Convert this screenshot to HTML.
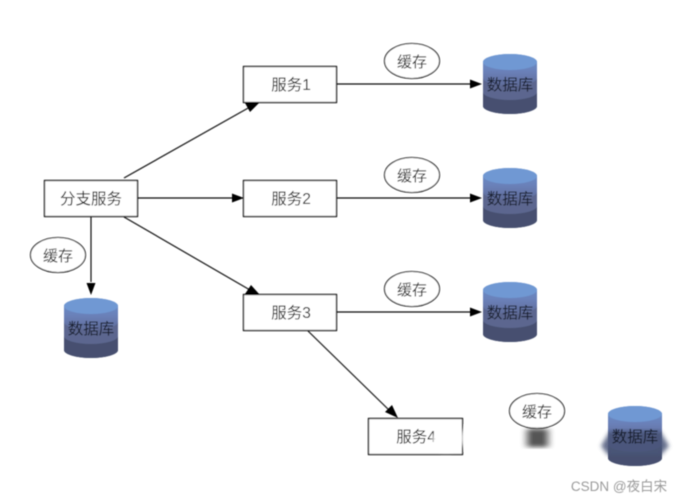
<!DOCTYPE html>
<html><head><meta charset="utf-8">
<style>
html,body{margin:0;padding:0;background:#fff}
svg{display:block}
text{font-family:"Liberation Sans","Noto Sans CJK SC",sans-serif;fill:#1e1e1e;text-anchor:middle}
</style></head>
<body>
<svg width="686" height="503" viewBox="0 0 686 503" xmlns="http://www.w3.org/2000/svg">
<defs>
<linearGradient id="cyl" x1="0" y1="0" x2="0" y2="1">
<stop offset="0" stop-color="#6f93cf"/><stop offset="0.3" stop-color="#6a80b8"/>
<stop offset="0.55" stop-color="#5f6a96"/><stop offset="0.72" stop-color="#545e80"/>
<stop offset="0.73" stop-color="#4a5474"/><stop offset="1" stop-color="#414c6c"/>
</linearGradient>
<linearGradient id="dk" x1="0" y1="0" x2="1" y2="0">
<stop offset="0" stop-color="#fff"/><stop offset="0.3" stop-color="#555"/><stop offset="0.7" stop-color="#555"/><stop offset="1" stop-color="#fff"/>
</linearGradient>
<filter id="b1"><feGaussianBlur stdDeviation="2"/></filter>
<filter id="s"><feGaussianBlur stdDeviation="0.4"/></filter>
<g id="db">
<path d="M0 8A27 8 0 0 1 54 8V52A27 8 0 0 1 0 52Z" fill="url(#cyl)"/>
<path d="M0 38A27 8 0 0 0 54 38V52A27 8 0 0 1 0 52Z" fill="#46506f"/>
<path d="M0 24A27 8 0 0 0 54 24V38A27 8 0 0 1 0 38Z" fill="#5b668f"/>
<ellipse cx="27" cy="8" rx="27" ry="8" fill="#6f98d3"/>
<text x="27" y="36" font-size="15.500" style="fill:#141a2c">数据库</text>
</g>
<g id="cache">
<ellipse cx="0" cy="0" rx="27.500" ry="17.500" fill="#fff" stroke="#111" stroke-width="1.100"/>
<text x="0" y="6" font-size="15">缓存</text>
</g>
</defs>
<g filter="url(#s)">
<g fill="#fff" stroke="#111" stroke-width="1.300">
<rect x="44.500" y="180.500" width="93" height="36"/>
<rect x="243.500" y="66.500" width="93" height="36"/>
<rect x="243.500" y="180.500" width="93" height="36"/>
<rect x="243.500" y="294.500" width="93" height="36"/>
<rect x="368.500" y="418.500" width="94" height="36"/>
</g>
<g font-size="15.500">
<text x="91" y="204">分支服务</text>
<text x="291" y="90">服务1</text>
<text x="291" y="204">服务2</text>
<text x="291" y="318">服务3</text>
<text x="416" y="442">服务4</text>
</g>
<g stroke="#111" stroke-width="1.200" fill="none">
<path d="M124 178L250 107"/><path d="M137 198H233"/><path d="M124 217L250 290"/>
<path d="M91 217V282"/><path d="M337 84H470"/><path d="M337 198H470"/><path d="M337 312H470"/>
<path d="M308 331L390 411"/>
</g>
<g fill="#000">
<path d="M260 102L245 103L250 112Z"/>
<path d="M244 198L232 193.500V202.500Z"/>
<path d="M260 295L251 285L245 294Z"/>
<path d="M91 295L86.500 283H95.500Z"/>
<path d="M482 84L470 79.500V88.500Z"/>
<path d="M482 198L470 193.500V202.500Z"/>
<path d="M482 312L470 307.500V316.500Z"/>
<path d="M398 418L392 405L385 412Z"/>
</g>
<use href="#cache" x="412" y="61"/>
<use href="#cache" x="412" y="175"/>
<use href="#cache" x="412" y="289"/>
<use href="#cache" x="58" y="255"/>
<use href="#cache" x="537" y="411"/>
<use href="#db" x="483" y="54"/>
<use href="#db" x="483" y="168"/>
<use href="#db" x="483" y="282"/>
<use href="#db" x="64" y="298"/>
<use href="#db" x="608" y="406"/>
<path d="M601 446L610 431H660L669 446L661 455H608Z" fill="#4a5478" opacity=".85" filter="url(#b1)"/>
<text x="635" y="442" font-size="15.500" style="fill:#141a2c">数据库</text>
<ellipse cx="446" cy="440" rx="14" ry="12" fill="#fff" filter="url(#b1)"/>
<ellipse cx="467" cy="438" rx="6" ry="11" fill="#fff" filter="url(#b1)"/>
<rect x="522" y="429" width="31" height="18" fill="url(#dk)" filter="url(#b1)"/>
<text x="619" y="491" font-size="13.500" style="fill:#9a9a9a">CSDN @夜白宋</text>
</g>
</svg>
</body></html>
